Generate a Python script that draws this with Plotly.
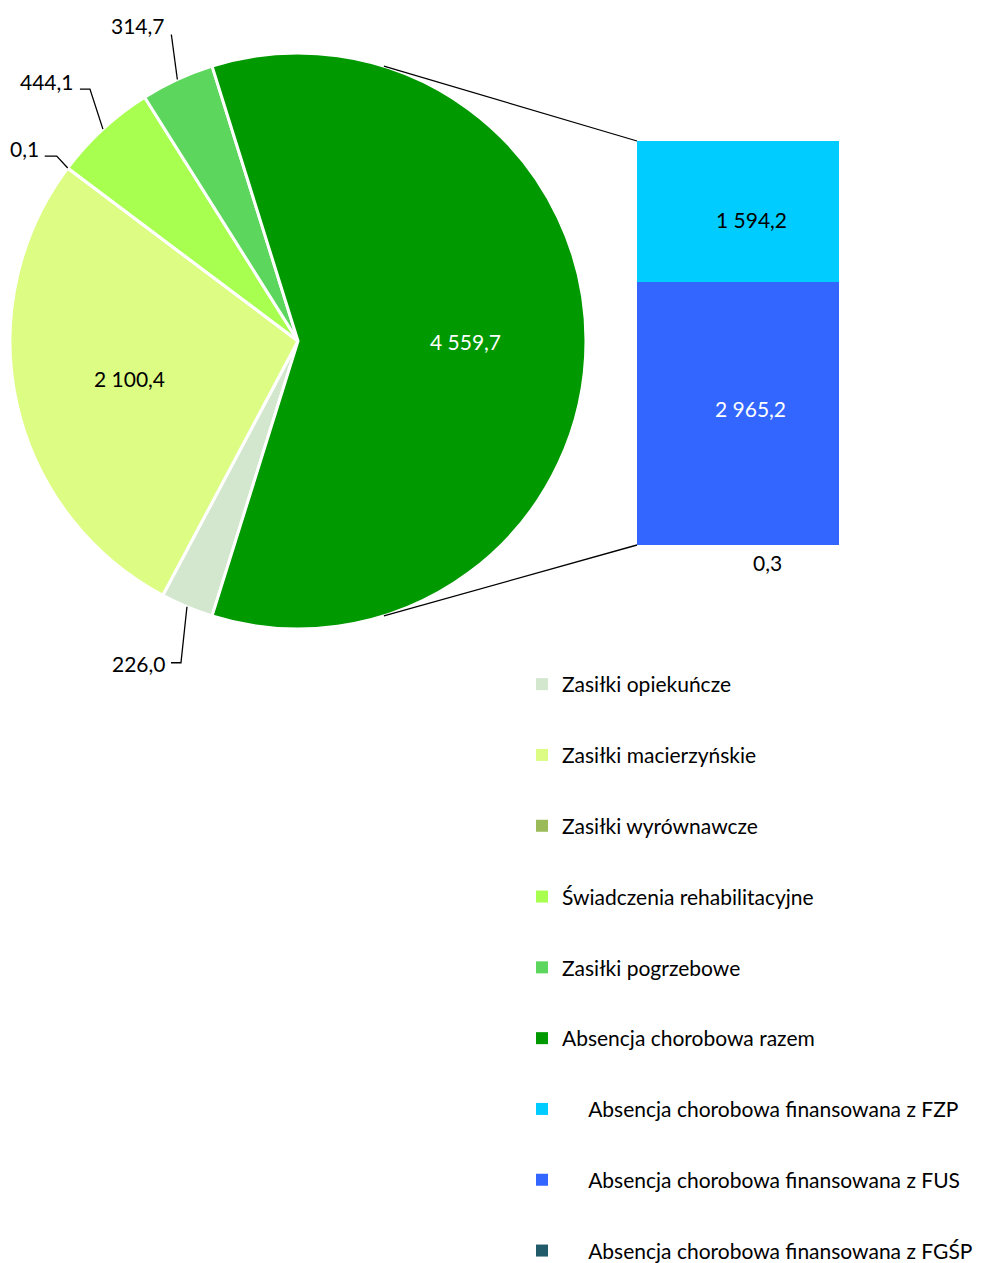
import math
import plotly.graph_objects as go

W, H = 986, 1263

# ---------------- data ----------------
pie_labels = ["Zasiłki opiekuńcze", "Zasiłki macierzyńskie", "Zasiłki wyrównawcze",
              "Świadczenia rehabilitacyjne", "Zasiłki pogrzebowe", "Absencja chorobowa razem"]
pie_values = [226.0, 2100.4, 0.1, 444.1, 314.7, 4559.7]
pie_colors = ["#D3E7CF", "#DDFC84", "#9BBB59", "#A8FF50", "#5CD65C", "#009900"]

bar_labels = ["Absencja chorobowa finansowana z FZP",
              "Absencja chorobowa finansowana z FUS",
              "Absencja chorobowa finansowana z FGŚP"]
bar_values = [1594.2, 2965.2, 0.3]
bar_colors = ["#00CCFF", "#3366FF", "#215A69"]

FONT = "Lato"
FS = 21

# ---------------- geometry ----------------
CX, CY, R = 298, 341, 288          # pie centre / radius in px
BX0, BX1, BY0, BY1 = 637, 839, 545, 141   # bar box in px


def px(x, y):
    return x / W, 1 - y / H


def fmt(v):
    s = f"{v:,.1f}"
    return s.replace(",", " ").replace(".", ",")


total = sum(pie_values)
frac_last = pie_values[-1] / total
rotation = 90 + frac_last * 180     # centre the last slice at 3 o'clock


def circ(angle, r):
    a = math.radians(angle)
    return CX + r * math.sin(a), CY - r * math.cos(a)


# mid angles (clockwise from 12 o'clock)
mids = []
acc = rotation
for v in pie_values:
    span = v / total * 360
    mids.append((acc + span / 2) % 360)
    acc += span

fig = go.Figure()

d_x0, d_y1 = px(CX - R, CY - R)
d_x1, d_y0 = px(CX + R, CY + R)
fig.add_trace(go.Pie(
    labels=pie_labels, values=pie_values, sort=False, direction="clockwise",
    rotation=rotation, marker=dict(colors=pie_colors, line=dict(color="white", width=3)),
    textinfo="none", hoverinfo="label+value", showlegend=False,
    domain=dict(x=[d_x0, d_x1], y=[d_y0, d_y1]),
))

# stacked bar (bottom first)
for lab, val, col in reversed(list(zip(bar_labels, bar_values, bar_colors))):
    fig.add_trace(go.Bar(
        x=[0], y=[val], width=[1], name=lab, marker=dict(color=col, line=dict(width=0)),
        showlegend=False, xaxis="x", yaxis="y", cliponaxis=False,
        hovertemplate="%{y:,.1f}<extra>" + lab + "</extra>",
    ))

# bar segment labels
bar_text_style = [("black", 13, 8), ("white", 12, -5)]   # colour, xshift, yshift (px)
base = 0.0
seg_mid = {}
for i in [2, 1, 0]:
    seg_mid[i] = base + bar_values[i] / 2
    base += bar_values[i]
for i, (col, xs, ys) in enumerate(bar_text_style):
    fig.add_annotation(x=0, y=seg_mid[i], xref="x", yref="y", text=fmt(bar_values[i]),
                       showarrow=False, xanchor="center", yanchor="middle",
                       xshift=xs, yshift=-ys,
                       font=dict(family=FONT, size=FS, color=col))

# "0,3" label below the bar
fig.add_annotation(x=0.145, y=0, xref="x", yref="y", text=fmt(bar_values[2]),
                   showarrow=False, yanchor="top", yshift=-3,
                   font=dict(family=FONT, size=FS, color="black"))

# inside pie labels
inside = {5: ("white", 0.58), 1: ("black", 0.6)}
for i, (col, rf) in inside.items():
    x, y = circ(mids[i], R * rf)
    fx, fy = px(x, y)
    fig.add_annotation(x=fx, y=fy, xref="paper", yref="paper", text=fmt(pie_values[i]),
                       showarrow=False, xanchor="center", yanchor="middle",
                       font=dict(family=FONT, size=FS, color=col))

# outside labels with leader lines: (elbow offsets, label anchor offset)
outside = {
    4: ([(-6, -45)], (-10, -54)),
    3: ([(-13, -40), (-23, -40)], (-27, -48)),
    2: ([(-11, -12), (-23, -12)], (-27, -20)),
    0: ([(-6, 56), (-16, 56)], (-19, 57)),
}
for i, (elbows, lab) in outside.items():
    ex, ey = circ(mids[i], R)
    pts = [(ex, ey)] + [(ex + dx, ey + dy) for dx, dy in elbows]
    path = "M " + " L ".join("{:.5f},{:.5f}".format(*px(x, y)) for x, y in pts)
    fig.add_shape(type="path", path=path, xref="paper", yref="paper",
                  line=dict(color="black", width=1.3))
    lx, ly = px(ex + lab[0], ey + lab[1])
    fig.add_annotation(x=lx, y=ly, xref="paper", yref="paper", text=fmt(pie_values[i]),
                       showarrow=False, xanchor="right", yanchor="middle",
                       font=dict(family=FONT, size=FS, color="black"))

# connector lines pie -> bar
a0 = frac_last * 180 - 90
p_top = circ(a0, R)
p_bot = circ(180 - a0, R)
for (x0, y0), (x1, y1) in [(p_top, (BX0, BY1)), (p_bot, (BX0, BY0))]:
    fx0, fy0 = px(x0, y0)
    fx1, fy1 = px(x1, y1)
    fig.add_shape(type="line", x0=fx0, y0=fy0, x1=fx1, y1=fy1, xref="paper", yref="paper",
                  line=dict(color="black", width=1.3))

# legend entries (dummy traces so each entry can be spaced)
indent = "\u00a0" * 5
leg_names = pie_labels + [indent + b for b in bar_labels]
leg_colors = pie_colors + bar_colors
for k, (n, c) in enumerate(zip(leg_names, leg_colors)):
    fig.add_trace(go.Scatter(x=[None], y=[None], mode="markers", name=n,
                             marker=dict(symbol="square", size=13, color=c),
                             legendgroup=f"g{k}", showlegend=True, hoverinfo="skip"))

bx0, by0 = px(BX0, BY0)
bx1, by1 = px(BX1, BY1)
fig.update_layout(
    width=W, height=H, margin=dict(l=0, r=0, t=0, b=0, autoexpand=False),
    paper_bgcolor="white", plot_bgcolor="rgba(0,0,0,0)",
    separators=", ", barmode="stack", bargap=0,
    font=dict(family=FONT, size=FS, color="black"),
    xaxis=dict(domain=[bx0, bx1], range=[-0.5, 0.5], visible=False, fixedrange=True),
    yaxis=dict(domain=[by0, by1], range=[0, sum(bar_values)], visible=False, fixedrange=True),
    legend=dict(x=522 / W, y=1 - 664 / H, xanchor="left", yanchor="top",
                traceorder="grouped", tracegroupgap=40.5, itemsizing="constant",
                font=dict(family=FONT, size=FS, color="black"), bgcolor="rgba(0,0,0,0)"),
    showlegend=True,
)

fig.write_html("out.html", config={"displayModeBar": False},
               post_script="document.body.style.margin='0';")
